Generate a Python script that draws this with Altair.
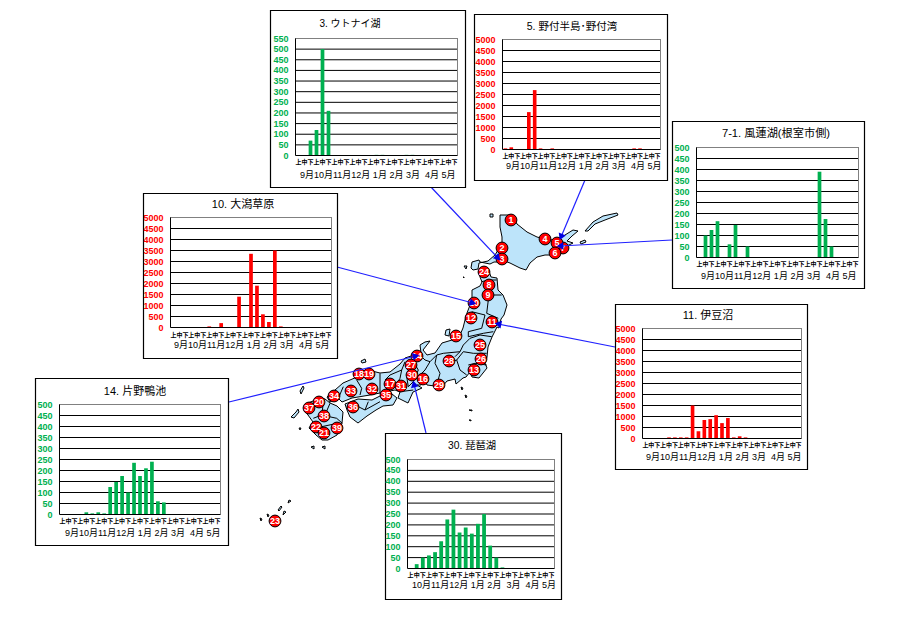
import math
import altair as alt
import pandas as pd

# ---------- data: half-month counts (上/中/下 for each month) ----------
M_9 = ["9月", "10月", "11月", "12月", "1月", "2月", "3月", "4月", "5月"]
M_10 = ["10月", "11月", "12月", "1月", "2月", "3月", "4月", "5月"]
v3 = [0,0,70,120,500,210,0,0,0,0,0,0,0,3,3,0,0,0,3,3,0,0,0,0,0,0,0]
v5 = [50,100,0,0,1700,2700,50,0,50,0,0,0,0,0,0,0,0,0,0,0,0,0,50,50,0,0,0]
v71 = [0,100,125,165,0,60,148,0,50,0,0,0,0,0,0,0,0,0,0,0,390,175,50,0,0,0,0]
v10 = [0,0,0,0,0,0,50,0,200,0,0,1400,0,3350,1900,600,250,3500,50,0,0,0,0,0,0,0,0]
v11 = [0,0,0,0,50,50,50,50,1500,330,840,880,1060,700,930,50,100,50,0,0,0,0,0,0,0,0,0]
v14 = [0,0,0,0,10,5,10,5,125,148,175,100,235,175,210,240,60,55,0,0,0,0,0,0,0,0,0]
v30 = [0,20,50,60,75,125,225,270,165,188,160,205,250,105,50,5,0,0,0,0,0,0,0,0]

PERIODS = ["上", "中", "下"]
NB = "\u00a0"
GREEN, RED = "#00B050", "#FF0000"
JP = "Liberation Sans, Noto Sans CJK JP"
W, H = 894, 615
LAB9 = f"9月10月11月12月{NB}1月{NB}2月{NB}3月{NB}{NB}4月{NB}5月"

panels = [
    dict(title="3. ウトナイ湖", tsize=10, vals=v3, months=M_9, ymax=550, color=GREEN,
         frame=(270.5, 10.5, 465.5, 187.5), plot=(295.5, 38.5, 457.5, 155.5), title_xy=(350, 24),
         tick_y=162, month_y=175, month_x=300, label=LAB9),
    dict(title="5. 野付半島･野付湾", tsize=10.5, vals=v5, months=M_9, ymax=5000, color=RED,
         frame=(474.5, 14.5, 667.5, 180.5), plot=(502.5, 39.5, 660.5, 149.5), title_xy=(572, 27),
         tick_y=156, month_y=166, month_x=506, label=LAB9),
    dict(title="7-1. 風蓮湖(根室市側)", tsize=11.2, vals=v71, months=M_9, ymax=500, color=GREEN,
         frame=(672.5, 121.5, 864.5, 288.5), plot=(696.5, 147.5, 858.5, 257.5), title_xy=(776, 134),
         tick_y=264, month_y=276, month_x=701, label=LAB9),
    dict(title="10. 大潟草原", tsize=11, vals=v10, months=M_9, ymax=5000, color=RED,
         frame=(143.5, 193.5, 337.5, 358.5), plot=(170.5, 217.5, 331.5, 327.5), title_xy=(243, 205),
         tick_y=335, month_y=345, month_x=174, label=LAB9),
    dict(title="11. 伊豆沼", tsize=11, vals=v11, months=M_9, ymax=5000, color=RED,
         frame=(615.5, 304.5, 807.5, 469.5), plot=(642.5, 328.5, 801.5, 438.5), title_xy=(708, 316),
         tick_y=445, month_y=457, month_x=646, label=LAB9),
    dict(title="14. 片野鴨池", tsize=11, vals=v14, months=M_9, ymax=500, color=GREEN,
         frame=(35.5, 378.5, 228.5, 545.5), plot=(59.5, 404.5, 220.5, 514.5), title_xy=(135, 392),
         tick_y=521, month_y=533, month_x=65, label=LAB9),
    dict(title="30. 琵琶湖", tsize=10.3, vals=v30, months=M_10, ymax=500, color=GREEN,
         frame=(385.5, 433.5, 561.5, 599.5), plot=(407.5, 459.5, 554.5, 568.5), title_xy=(472, 446),
         tick_y=575, month_y=585, month_x=412, label=f"10月11月12月{NB}1月{NB}2月{NB}{NB}3月{NB}{NB}4月{NB}5月"),
]

# ---------- site markers: page position of each numbered circle ----------
sites = [
    ("1",511,220),("2",502,248),("3",502,259),("4",545,239),("7",563,248),("5",557,243),("6",555,253),
    ("24",484,272),("8",489,285),("9",488,295),("10",474,303),("12",471,318),("11",492,322),
    ("15",456,336),("25",480,345),("26",481,359),("28",449,361),("13",474,370),("14",417,356),
    ("27",411,365),("30",412,375),("16",423,379),("29",439,385),("17",390,384),("31",401,386),
    ("35",386,395),("18",359,374),("19",369,374),("33",351,391),("32",372,389),("34",334,396),
    ("20",319,402),("37",309,408),("36",353,407),("38",324,416),("22",316,427),("21",324,433),
    ("39",337,428),("23",275,521),
]

# leader lines: panel edge -> site
leaders = [
    (430,186,498,258),(585,180,561,237),(672,240,560,246),(337,267,473,303),
    (615,347,498,324),(229,402,416,356),(426,433,414,384),
]

# ---------- map outlines (page px) ----------
hokkaido = [(500,215),(507,215),(512,215),(517,224),(527,232),(537,237),(545,239),(553,240),(562,237),
            (565,235),(573,230),(578,231),(572,236),(567,241),(573,243),(563,248),(562,253),(553,255),
            (545,255),(537,257),(530,263),(526,270),(520,268),(510,263),(502,260),(498,262),(494,262),
            (490,264),(480,262),(479,260),(472,262),(471,268),(473,270),(478,269),(479,263),(488,261),
            (495,255),(498,250),(502,247),(502,237),(500,227)]
honshu = [(480,277),(479,271),(483,268),(489,271),(491,277),(497,278),(498,290),(503,295),(507,305),(504,315),
          (501,319),(499,328),(497,327),(492,337),(488,347),(487,357),(485,363),(487,368),(483,373),(479,378),
          (472,377),(470,372),(466,377),(463,378),(456,384),(455,379),(447,381),(442,387),(435,386),(427,385),
          (425,381),(421,385),(417,385),(422,388),(413,392),(408,403),(398,398),(400,392),(395,390),(385,392),
          (380,393),(370,395),(352,398),(342,402),(338,398),(330,402),(327,397),(335,390),(343,383),(357,377),
          (368,370),(380,373),(390,372),(400,364),(405,358),(408,357),(421,353),(420,345),(425,342),(430,341),
          (423,350),(427,355),(435,353),(442,343),(452,340),(460,335),(463,328),(465,320),(467,313),(472,300),
          (472,290),(480,286),(482,282)]
shikoku = [(345,404),(358,399),(372,400),(380,396),(392,394),(397,398),(393,405),(383,406),(376,410),
           (367,416),(358,423),(350,417),(347,410)]
kyushu = [(318,397),(325,399),(330,403),(337,406),(343,412),(342,423),(337,435),(328,440),(322,440),(316,435),
          (309,428),(313,422),(308,415),(304,410),(308,403),(313,401)]
islands = [
    [(446,330),(450,329),(449,336),(445,335)],           # Sado
    [(490,214),(493,214),(493,217),(490,217)],
    [(464,266),(467,266),(466,269)],
    [(463,277),(464,277),(464,278)],
    [(585,231),(593,222),(603,216),(617,213),(618,215),(605,220),(595,224),(588,231)],  # Kuril
    [(580,242),(585,240),(586,242),(581,244)],
    [(300,391),(303,386),(304,388),(301,394)],
    [(291,417),(296,412),(298,409),(299,412),(294,418)],
    [(361,361),(365,359),(366,362),(362,363)],
    [(289,500),(291,501),(288,503)],
    [(281,506),(282,507),(279,511),(278,510)],
    [(284,511),(286,512),(283,515)],
    [(267,514),(269,515),(268,517)],
    [(260,518),(262,519),(261,521)],
    [(311,447),(314,446),(314,449)],
    [(322,447),(325,446),(325,449)],
    [(461,387),(463,388),(462,390)],
    [(465,395),(467,396),(466,398)],
    [(469,410),(472,410),(472,411)],
    [(469,420),(471,420),(471,421)],
    [(299,428),(301,428),(300,430)],
]

def crop(ox, oy, pts):
    return [(ox + a / 3, oy + b / 3) for a, b in pts]

borders = [
    crop(430,200,[(155,245),(175,240),(200,240)]),
    crop(430,200,[(170,270),(190,285),(215,285)]),
    crop(430,200,[(175,300),(170,340),(205,355)]),
    crop(430,200,[(125,335),(165,345)]),
    crop(430,200,[(165,345),(155,385),(115,395),(115,410),(160,400),(190,395)]),
    crop(380,320,[(335,50),(300,45),(270,55),(250,75),(240,95),(225,110)]),
    crop(380,320,[(320,100),(280,100),(250,95),(230,120),(240,150),(260,165)]),
    crop(380,320,[(320,135),(285,130),(265,135)]),
    crop(380,320,[(240,95),(190,100),(170,105),(165,130),(180,160),(170,195)]),
    crop(380,320,[(200,130),(230,120)]),
    crop(380,320,[(170,105),(150,125),(135,120),(125,110)]),
    crop(380,320,[(150,125),(135,150),(120,165),(135,180)]),
    crop(380,320,[(100,125),(115,150),(100,185),(85,200),(80,170)]),
    crop(380,320,[(75,125),(65,150),(30,165),(15,180)]),
    crop(380,320,[(65,150),(60,175),(45,200)]),
    crop(380,320,[(60,215),(100,210)]),
    crop(280,360,[(230,60),(245,85),(240,105)]),
    crop(280,360,[(175,115),(190,80)]),
    crop(280,360,[(300,40),(300,100)]),
    crop(280,360,[(130,130),(125,165),(100,175)]),
    crop(280,360,[(125,165),(170,175),(187,190)]),
    crop(280,360,[(150,130),(135,165)]),
    crop(280,360,[(125,200),(172,190)]),
    crop(280,360,[(265,125),(255,150)]),
    crop(280,360,[(215,130),(255,150),(300,125)]),
]

def shift(pts):
    return [[round(x - 8, 1), round(y - 8, 1)] for x, y in pts]

def poly_feature(pts):
    ring = shift(pts)
    return {"type": "Feature", "properties": {}, "geometry": {"type": "Polygon", "coordinates": [ring + [ring[0]]]}}

def line_feature(pts):
    return {"type": "Feature", "properties": {}, "geometry": {"type": "LineString", "coordinates": shift(pts)}}

ROW = pd.DataFrame({"a": [0]})
PX = alt.Scale(domain=[8, 8 + W], range=[0, W], nice=False)
PY = alt.Scale(domain=[8, 8 + H], range=[0, H], nice=False)

layers = []

# map
layers.append(alt.Chart(alt.Data(values=[poly_feature(p) for p in [hokkaido, honshu, shikoku, kyushu] + islands]))
              .mark_geoshape(fill="#BDE4FA", stroke="black", strokeWidth=1)
              .project(type="identity", scale=1, translate=[0, 0]))
layers.append(alt.Chart(alt.Data(values=[line_feature(p) for p in borders]))
              .mark_geoshape(filled=False, stroke="black", strokeWidth=1)
              .project(type="identity", scale=1, translate=[0, 0]))

# markers
site_df = pd.DataFrame(sites, columns=["n", "x", "y"])
layers.append(alt.Chart(site_df).mark_circle(size=140, color="#FF0000", opacity=1, stroke="black", strokeWidth=1).encode(
    x=alt.X("x:Q", scale=PX, axis=None), y=alt.Y("y:Q", scale=PY, axis=None)))
layers.append(alt.Chart(site_df).mark_text(color="white", fontSize=9, fontWeight="bold", font="Liberation Sans").encode(
    x=alt.X("x:Q", scale=PX, axis=None), y=alt.Y("y:Q", scale=PY, axis=None), text="n:N"))

# leaders
lead_df = pd.DataFrame(leaders, columns=["x", "y", "x2", "y2"])
lead_df["angle"] = [(math.degrees(math.atan2(r.x2 - r.x, r.y - r.y2)) + 360) % 360 for r in lead_df.itertuples()]
layers.append(alt.Chart(lead_df).mark_rule(color="#2020FF", strokeWidth=1.2).encode(
    x=alt.X("x:Q", scale=PX, axis=None), x2="x2:Q",
    y=alt.Y("y:Q", scale=PY, axis=None), y2="y2:Q"))
layers.append(alt.Chart(lead_df).mark_point(shape="triangle-up", filled=True, color="#0000E0", size=60, opacity=1).encode(
    x=alt.X("x2:Q", scale=PX, axis=None), y=alt.Y("y2:Q", scale=PY, axis=None),
    angle=alt.Angle("angle:Q", scale=None)))

def panel(p):
    fx0, fy0, fx1, fy1 = [v - 8 for v in p["frame"]]
    l, t, r, b = [v - 8 for v in p["plot"]]
    cats = [f"{m}{g}" for m in p["months"] for g in PERIODS]
    df = pd.DataFrame({"cat": cats, "g": [c[-1] for c in cats], "v": p["vals"]})
    step = 50 if p["ymax"] <= 550 else 500
    ticks = pd.DataFrame({"v": list(range(0, p["ymax"] + 1, int(step)))})
    xs = alt.Scale(domain=cats, range=[l, r], paddingInner=0.38, paddingOuter=0.19)
    ys = alt.Scale(domain=[0, p["ymax"]], range=[b, t], nice=False)
    out = [
        alt.Chart(ROW).mark_rect(fill="white", stroke="black", strokeWidth=1.2).encode(
            x=alt.value(fx0), x2=alt.value(fx1), y=alt.value(fy0), y2=alt.value(fy1)),
        alt.Chart(ticks[ticks.v > 0]).mark_rule(color="black", strokeWidth=1).encode(
            y=alt.Y("v:Q", scale=ys, axis=None), x=alt.value(l), x2=alt.value(r)),
        alt.Chart(ROW).mark_rule(color="#808080", strokeWidth=1).encode(x=alt.value(l), x2=alt.value(r), y=alt.value(t)),
        alt.Chart(ROW).mark_rule(color="#808080", strokeWidth=1).encode(x=alt.value(r), y=alt.value(t), y2=alt.value(b)),
        alt.Chart(df[df.v > 0]).mark_bar(color=p["color"]).encode(
            x=alt.X("cat:N", scale=xs, axis=None, sort=cats),
            y=alt.Y("v:Q", scale=ys, axis=None)),
        alt.Chart(ROW).mark_rule(color="black", strokeWidth=1).encode(x=alt.value(l), x2=alt.value(r), y=alt.value(b)),
        alt.Chart(ROW).mark_rule(color="black", strokeWidth=1).encode(x=alt.value(l), y=alt.value(t), y2=alt.value(b)),
        alt.Chart(ticks).mark_text(color=p["color"], align="right", baseline="middle", fontSize=9, fontWeight="bold",
                                   font="Liberation Sans").encode(
            y=alt.Y("v:Q", scale=ys, axis=None), x=alt.value(l - 7), text="v:Q"),
        alt.Chart(df).mark_text(color="black", fontSize=6, fontWeight="bold", baseline="middle", font=JP).encode(
            x=alt.X("cat:N", scale=xs, axis=None, sort=cats), y=alt.value(p["tick_y"] - 8), text="g:N"),
        alt.Chart(ROW).mark_text(text=p["label"], align="left", baseline="middle", fontSize=9, font=JP, color="black").encode(
            x=alt.value(p["month_x"] - 8), y=alt.value(p["month_y"] - 8)),
        alt.Chart(ROW).mark_text(text=p["title"], align="center", baseline="middle", fontSize=p["tsize"], font=JP, color="black").encode(
            x=alt.value(p["title_xy"][0] - 8), y=alt.value(p["title_xy"][1] - 8)),
    ]
    return out

for p in panels:
    layers.extend(panel(p))

chart = (
    alt.layer(*layers)
    .resolve_scale(x="independent", y="independent")
    .properties(width=W, height=H, padding=0, autosize=alt.AutoSizeParams(type="none"))
    .configure_view(strokeWidth=0)
)

chart.save("out.html", embed_options={"renderer": "svg", "actions": False})
